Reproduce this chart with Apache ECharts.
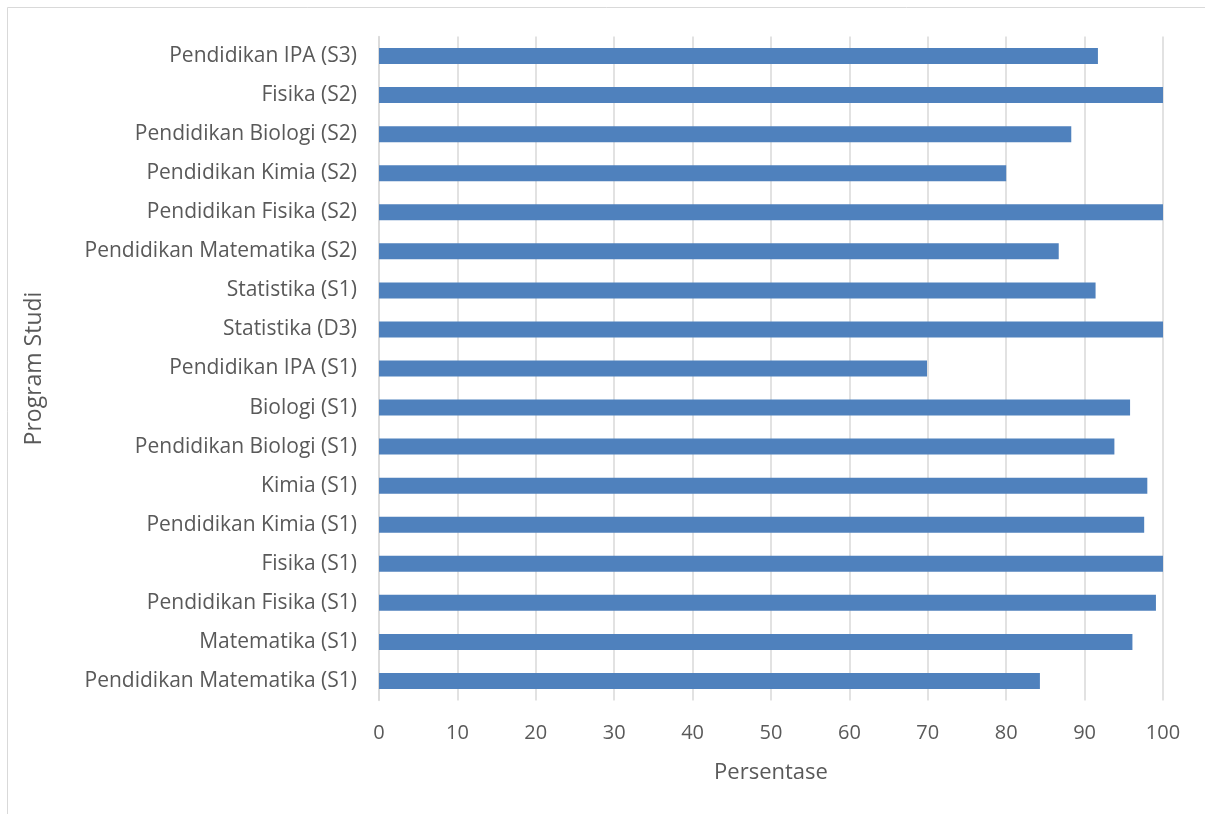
<!DOCTYPE html>
<html>
<head>
<meta charset="utf-8">
<script src="https://cdn.jsdelivr.net/npm/echarts@6/dist/echarts.min.js"></script>
<style>
html,body{margin:0;padding:0;background:#fff;}
#chart{width:1205px;height:814px;}
</style>
</head>
<body>
<div id="chart"></div>
<script>
const categories = [
  "Pendidikan Matematika (S1)",
  "Matematika (S1)",
  "Pendidikan Fisika (S1)",
  "Fisika (S1)",
  "Pendidikan Kimia (S1)",
  "Kimia (S1)",
  "Pendidikan Biologi (S1)",
  "Biologi (S1)",
  "Pendidikan IPA (S1)",
  "Statistika (D3)",
  "Statistika (S1)",
  "Pendidikan Matematika (S2)",
  "Pendidikan Fisika (S2)",
  "Pendidikan Kimia (S2)",
  "Pendidikan Biologi (S2)",
  "Fisika (S2)",
  "Pendidikan IPA (S3)"
];
const persentase = [84.3, 96.1, 99.1, 100, 97.6, 98.0, 93.8, 95.8, 69.9, 100, 91.4, 86.7, 100, 80.0, 88.3, 100, 91.7];
const xTicks = [0, 10, 20, 30, 40, 50, 60, 70, 80, 90, 100];

const FONT = "Open Sans";
const TXT = "#595959";
const chart = echarts.init(document.getElementById('chart'));
chart.setOption({
  animation: false,
  backgroundColor: '#ffffff',
  graphic: [{
    type: 'rect',
    shape: {x: 7.5, y: 7.5, width: 1300, height: 900},
    style: {fill: 'none', stroke: '#d9d9d9', lineWidth: 1},
    silent: true
  }],
  grid: {left: 379, right: 42, top: 36.5, bottom: 113.5, containLabel: false},
  xAxis: {
    type: 'value',
    min: xTicks[0],
    max: xTicks[xTicks.length - 1],
    interval: 10,
    axisLine: {show: false},
    axisTick: {show: false},
    splitLine: {show: true, lineStyle: {color: '#d9d9d9', width: 1.5}},
    axisLabel: {color: TXT, fontFamily: FONT, fontSize: 20, margin: 23},
    name: 'Persentase',
    nameLocation: 'middle',
    nameGap: 61,
    nameTextStyle: {color: TXT, fontFamily: FONT, fontSize: 22}
  },
  yAxis: {
    type: 'category',
    data: categories,
    axisLine: {show: true, lineStyle: {color: '#d9d9d9', width: 1.5}},
    axisTick: {show: false},
    axisLabel: {color: TXT, fontFamily: FONT, fontSize: 21, margin: 22},
    name: 'Program Studi',
    nameLocation: 'middle',
    nameGap: 333,
    nameTextStyle: {color: TXT, fontFamily: FONT, fontSize: 23}
  },
  series: [{
    type: 'bar',
    data: persentase,
    barWidth: 16,
    itemStyle: {color: '#4f81bd'},
    silent: true
  }]
});
</script>
</body>
</html>
